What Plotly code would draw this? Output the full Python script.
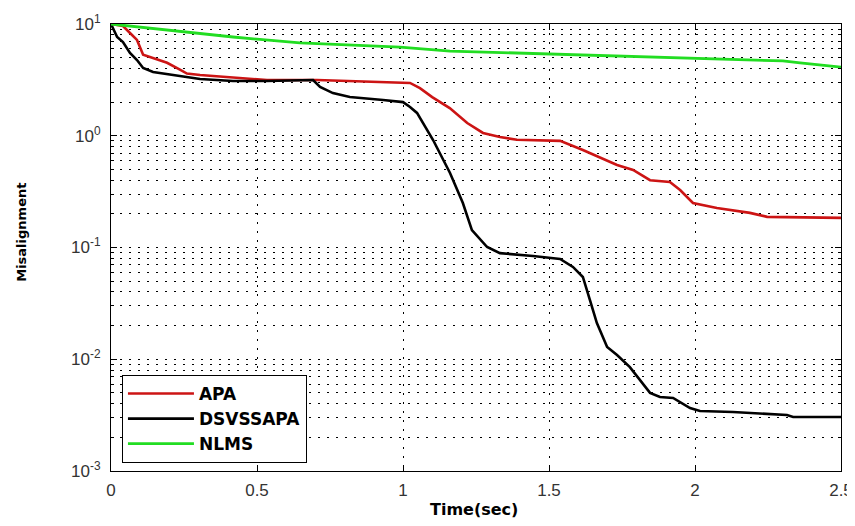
import plotly.graph_objects as go

# ---- data ----
apa_t = [0.0, 0.041, 0.065, 0.089, 0.11, 0.158, 0.192, 0.236, 0.26, 0.305, 0.418, 0.534, 0.705,
         0.932, 1.024, 1.058, 1.10, 1.16, 1.22, 1.274, 1.332, 1.39, 1.538, 1.616, 1.733, 1.788,
         1.846, 1.914, 1.949, 1.993, 2.075, 2.188, 2.247, 2.5]
apa_v = [10.0, 9.6, 8.3, 7.2, 5.3, 4.8, 4.5, 3.9, 3.6, 3.5, 3.3, 3.15, 3.15,
         3.0, 2.97, 2.67, 2.22, 1.77, 1.3, 1.06, 0.975, 0.92, 0.90, 0.745, 0.547, 0.494,
         0.40, 0.386, 0.327, 0.25, 0.226, 0.204, 0.188, 0.184]

ds_t = [0.0, 0.021, 0.041, 0.065, 0.089, 0.11, 0.144, 0.192, 0.247, 0.305, 0.418, 0.534, 0.692,
        0.716, 0.76, 0.818, 0.932, 1.0, 1.024, 1.048, 1.103, 1.151, 1.161, 1.205, 1.236, 1.288,
        1.332, 1.445, 1.538, 1.582, 1.616, 1.64, 1.664, 1.699, 1.733, 1.777, 1.812, 1.846, 1.88,
        1.925, 1.983, 2.017, 2.13, 2.315, 2.336, 2.5]
ds_v = [10.0, 7.65, 6.9, 5.5, 4.76, 4.04, 3.72, 3.57, 3.36, 3.22, 3.09, 3.09, 3.15,
        2.73, 2.41, 2.22, 2.09, 2.0, 1.81, 1.6, 0.916, 0.525, 0.464, 0.25, 0.143, 0.101,
        0.089, 0.084, 0.079, 0.067, 0.0545, 0.034, 0.0211, 0.0129, 0.0109, 0.0085, 0.0065, 0.005, 0.0046,
        0.0045, 0.00366, 0.00344, 0.00337, 0.00317, 0.00304, 0.00304]

nlms_t = [0.0, 0.192, 0.418, 0.647, 0.99, 1.161, 1.503, 2.017, 2.301, 2.36, 2.5]
nlms_v = [10.0, 8.84, 7.65, 6.77, 6.22, 5.73, 5.39, 4.87, 4.67, 4.48, 4.12]

x_ticks = [0, 0.5, 1, 1.5, 2, 2.5]
x_ticklabels = ["0", "0.5", "1", "1.5", "2", "2.5"]
y_ticks = [1e-3, 1e-2, 1e-1, 1e0, 1e1]
y_ticklabels = ["10<sup>-3</sup>", "10<sup>-2</sup>", "10<sup>-1</sup>", "10<sup>0</sup>", "10<sup>1</sup>"]
y_minor = [m * 10.0 ** e for e in range(-3, 1) for m in range(2, 10)]

x_title = "Time(sec)"
y_title = "Misalignment"

fig = go.Figure()
fig.add_trace(go.Scatter(x=apa_t, y=apa_v, mode="lines", name="APA",
                         line=dict(color="#cc1414", width=2.6)))
fig.add_trace(go.Scatter(x=ds_t, y=ds_v, mode="lines", name="DSVSSAPA",
                         line=dict(color="#000000", width=2.6)))
fig.add_trace(go.Scatter(x=nlms_t, y=nlms_v, mode="lines", name="NLMS",
                         line=dict(color="#22dd22", width=2.8)))

FONT = "Liberation Sans, Arial, sans-serif"
BOLD = "DejaVu Sans, Verdana, sans-serif"
tick_font = dict(family=FONT, size=17, color="#333333")
grid = dict(showgrid=True, gridcolor="black", gridwidth=1, griddash="2px,7px")

# page body has an 8px margin, so the figure is sized/offset to keep the plot area in place
fig.update_layout(
    width=847, height=510,
    margin=dict(l=103, r=14, t=16, b=47, autoexpand=False),
    paper_bgcolor="white", plot_bgcolor="white",
    showlegend=True,
    legend=dict(x=0.015, y=0.018, xanchor="left", yanchor="bottom",
                bgcolor="white", bordercolor="black", borderwidth=1,
                font=dict(family=BOLD, size=17, color="black", weight="bold"),
                itemwidth=66, tracegroupgap=0),
    xaxis=dict(range=[0, 2.5], tickvals=x_ticks, ticktext=x_ticklabels, automargin=False,
               showline=True, linecolor="black", linewidth=1, mirror="ticks",
               ticks="inside", ticklen=6, tickcolor="black", ticklabelstandoff=4,
               zeroline=False, tickfont=tick_font, **grid),
    yaxis=dict(type="log", range=[-3, 1], tickvals=y_ticks, ticktext=y_ticklabels, automargin=False,
               showline=True, linecolor="black", linewidth=1, mirror="ticks",
               ticks="inside", ticklen=6, tickcolor="black", ticklabelstandoff=6,
               zeroline=False, tickfont=tick_font, **grid,
               minor=dict(tickvals=y_minor, ticks="inside", ticklen=3, tickcolor="black", **grid)),
    annotations=[
        dict(text="<b>" + x_title + "</b>", xref="paper", yref="paper", x=0.497, y=-0.087,
             xanchor="center", yanchor="middle", showarrow=False,
             font=dict(family=BOLD, size=16, color="black")),
        dict(text="<b>" + y_title + "</b>", xref="paper", yref="paper", x=-0.122, y=0.535,
             xanchor="center", yanchor="middle", showarrow=False, textangle=-90,
             font=dict(family=BOLD, size=13, color="black")),
    ],
)

fig.write_html("out.html")
